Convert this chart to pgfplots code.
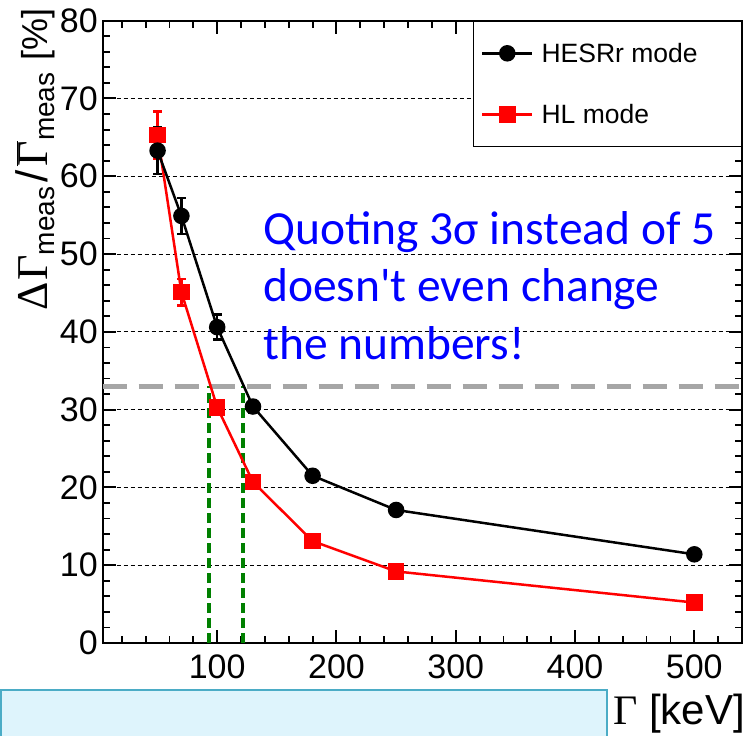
\documentclass[border=0pt]{standalone}
\usepackage{pgfplots}
\pgfplotsset{compat=1.18}
\usepackage{fontspec}
\setmainfont{Liberation Sans}
\newfontfamily\serifG{Liberation Serif}
\newfontfamily\carlito{Carlito}
\definecolor{gridgray}{RGB}{166,166,166}
\definecolor{dgreen}{RGB}{0,128,0}
\definecolor{boxfill}{RGB}{222,244,252}
\definecolor{boxedge}{RGB}{75,172,198}
\pgfplotstableread{
x y e
50 63.3 3.0
70 54.9 2.3
100 40.6 1.6
130 30.4 0.8
180 21.5 0.4
250 17.1 0.3
500 11.4 0.3
}\hesr
\pgfplotstableread{
x y e
50 65.3 3.0
70 45.1 1.7
100 30.3 0.8
130 20.7 0.5
180 13.1 0.4
250 9.2 0.3
500 5.2 0.3
}\hl
\newcommand\meas{\raisebox{-7pt}{\fontsize{28}{28}\selectfont meas}}
\begin{document}
\begin{tikzpicture}
\useasboundingbox (0,0) rectangle (747pt,736pt);
\fill[boxfill, draw=boxedge, line width=2pt] (1pt,-10pt) rectangle (607pt,46pt);
\begin{axis}[
 at={(102.7pt,93pt)}, anchor=south west,
 scale only axis, width=639.3pt, height=622.3pt,
 xmin=4, xmax=540, ymin=0, ymax=80,
 xtick={100,200,300,400,500},
 minor xtick={20,40,60,80,120,140,160,180,220,240,260,280,320,340,360,380,420,440,460,480,520},
 ytick={0,10,...,80},
 minor ytick={2,4,...,78},
 tickwidth=13pt, subtickwidth=7pt,
 every tick/.append style={black, line width=2pt},
 every minor tick/.append style={black, line width=1.8pt},
 axis line style={line width=2pt},
 ymajorgrids, yminorgrids=false, xminorgrids=false,
 major grid style={black, line width=1pt, dash pattern=on 4pt off 3pt},
 /pgf/number format/assume math mode=true,
 ticklabel style={font=\fontsize{34}{40}\selectfont},
 yticklabel style={inner sep=0pt, xshift=-4.7pt},
 xticklabel style={inner sep=0pt, yshift=-12pt},
 xlabel={{\serifG Γ} [keV]},
 x label style={at={(axis description cs:1,0)}, anchor=base east, font=\fontsize{42}{50}\selectfont, yshift=-82pt, xshift=3pt, inner sep=0pt},
 ylabel={\fontsize{44}{50}\selectfont{\serifG Δ\kern2pt Γ}\meas\kern4pt/\kern4pt$\overline{\hbox{\serifG Γ}}$\meas\ {\fontsize{36}{40}\selectfont[\%]}},
 y label style={at={(axis description cs:-0.0871,1.0204)}, anchor=base east, inner sep=0pt},
 legend style={at={(axis description cs:1,1)}, anchor=north east, draw=black, line width=1.5pt, font=\fontsize{26.5}{30}\selectfont, inner xsep=7.7pt, inner ysep=19.5pt, row sep=36.5pt, column sep=6pt},
 legend cell align=left, reverse legend,
 legend image code/.code={\draw[mark repeat=2, mark phase=2, #1] plot coordinates {(0pt,0pt) (25pt,0pt) (50pt,0pt)};},
]
\addplot[gridgray, line width=5pt, dash pattern=on 24pt off 12pt, forget plot] coordinates {(4,33) (540,33)};
\addplot[dgreen, line width=4pt, dash pattern=on 10pt off 5pt, forget plot] coordinates {(93,0) (93,33)};
\addplot[dgreen, line width=4pt, dash pattern=on 10pt off 5pt, forget plot] coordinates {(122,0) (122,33)};
\addplot[red, line width=2.5pt, mark=square*, mark size=7pt, mark options={solid},
 error bars/.cd, y dir=both, y explicit, error mark=-, error bar style={line width=2.5pt}, error mark options={rotate=90, line width=2.5pt, mark size=4.5pt}]
 table[x=x, y=y, y error=e] {\hl};
\addlegendentry{\makebox[190pt][l]{HL mode}}
\addplot[black, line width=2.5pt, mark=*, mark size=7pt, mark options={solid},
 error bars/.cd, y dir=both, y explicit, error mark=-, error bar style={line width=2.5pt}, error mark options={rotate=90, line width=2.5pt, mark size=4.5pt}]
 table[x=x, y=y, y error=e] {\hesr};
\addlegendentry{\makebox[190pt][l]{HESRr mode}}
\end{axis}
\node[anchor=base west, text=blue, font=\carlito\fontsize{47.5}{50}\selectfont, inner sep=0pt] at (263pt,491pt) {Quoting 3σ instead of 5};
\node[anchor=base west, text=blue, font=\carlito\fontsize{47.5}{50}\selectfont, inner sep=0pt] at (263pt,434pt) {doesn't even change};
\node[anchor=base west, text=blue, font=\carlito\fontsize{47.5}{50}\selectfont, inner sep=0pt] at (263pt,376pt) {the numbers!};
\end{tikzpicture}
\end{document}
